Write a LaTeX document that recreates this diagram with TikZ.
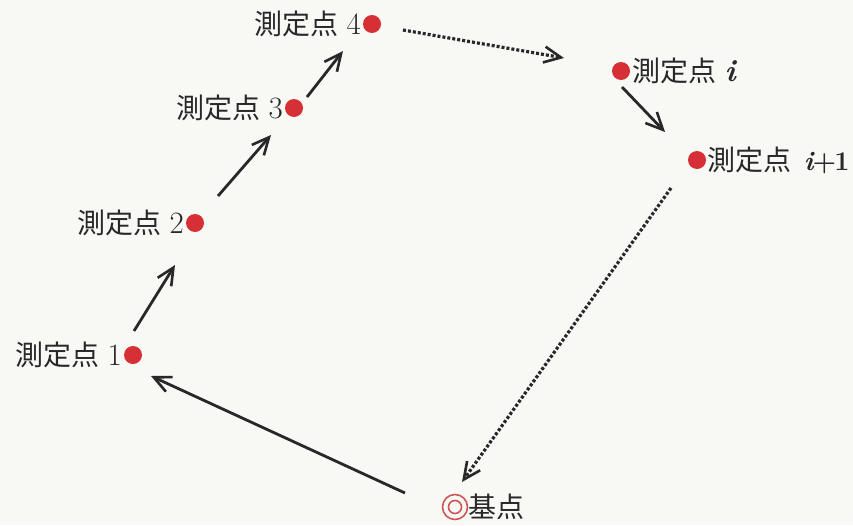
\documentclass[tikz,border=0pt]{standalone}
\usepackage{fontspec}
\newfontfamily\jp{Noto Sans CJK JP}
\usetikzlibrary{arrows.meta,calc}
\definecolor{dotred}{RGB}{214,48,54}
\definecolor{basered}{RGB}{205,85,85}
\definecolor{ink}{RGB}{40,40,40}
\definecolor{paper}{RGB}{248,248,245}
\newcommand{\bignum}[1]{{\fontsize{31}{34}\selectfont #1}}
\tikzset{
  pt/.style={circle,fill=dotred,inner sep=0pt,minimum size=18pt},
  lab/.style={text=ink,inner sep=0pt,font=\fontsize{28}{32}\selectfont},
  arr/.style={draw=ink,line width=2.8pt,-{Straight Barb[length=17pt,width=16pt,line width=2.6pt]}},
  dotarr/.style={arr,line width=3.2pt,dash pattern=on 3pt off 2pt}
}
\begin{document}
\begin{tikzpicture}[x=1pt,y=-1pt]
\fill[paper] (0,0) rectangle (853,525);
\useasboundingbox (0,0) rectangle (853,525);
% points
\node[pt] (d1) at (133,355) {};
\node[pt] (d2) at (195,223) {};
\node[pt] (d3) at (294,108) {};
\node[pt] (d4) at (372,24) {};
\node[pt] (di) at (621,71) {};
\node[pt] (dj) at (697,160) {};
\node[circle,draw=basered,line width=1.6pt,inner sep=0pt,minimum size=25pt] (b) at (455,507) {};
\node[circle,draw=basered,line width=1.6pt,inner sep=0pt,minimum size=13pt] (bi) at (b) {};
% labels
\node[lab,anchor=east] (l1) at ($(d1)+(-11,0)$) {{\jp 測定点} \bignum{1}};
\node[lab,anchor=east] (l2) at ($(d2)+(-11,0)$) {{\jp 測定点} \bignum{2}};
\node[lab,anchor=east] (l3) at ($(d3)+(-11,0)$) {{\jp 測定点} \bignum{3}};
\node[lab,anchor=east] (l4) at ($(d4)+(-11,0)$) {{\jp 測定点} \bignum{4}};
\node[lab,anchor=west] (li) at ($(di)+(11,0)$) {{\jp 測定点} \bignum{\textbf{\textit{i}}}};
\node[lab,anchor=west] (lj) at ($(dj)+(10,0)$) {{\jp 測定点}\hspace{0.45em}{\fontsize{27}{30}\selectfont\textbf{\textit{i}\kern-2pt+\kern-2pt1}}};
\node[lab,anchor=west] (lb) at ($(b)+(13,0)$) {\jp 基点};
% connectors
\draw[arr] ($(b)+(-50,-14)$) -- ($(d1)+(18,21)$);
\draw[arr] ($(d1)+(1,-24)$) -- ($(d2)+(-20,42)$);
\draw[arr] ($(d2)+(23,-27)$) -- ($(d3)+(-23,27)$);
\draw[arr] ($(d3)+(13,-11)$) -- ($(d4)+(-29,27)$);
\draw[dotarr] ($(d4)+(31,6)$) -- ($(di)+(-57,-13)$);
\draw[arr] ($(di)+(1,16)$) -- ($(dj)+(-32,-28)$);
\draw[dotarr] ($(dj)+(-26,28)$) -- ($(b)+(7,-25)$);
\end{tikzpicture}
\end{document}
